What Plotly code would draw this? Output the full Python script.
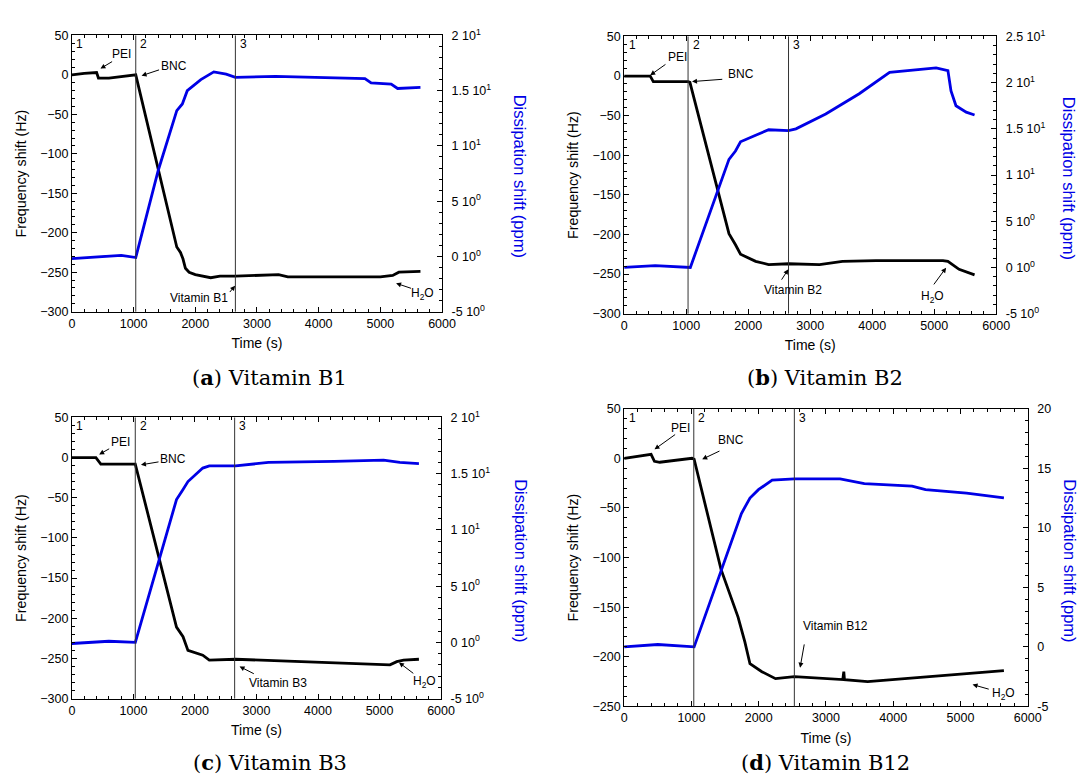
import plotly.graph_objects as go

W, H = 1091, 782

# ---------------- data ----------------
# Panel (a) Vitamin B1
tf_a = [0, 200, 400, 430, 600, 1000, 1035, 1700, 1760, 1800, 1840, 1900, 2000, 2250, 2400, 2650, 3250, 3350, 3500, 5000, 5200, 5300, 5650]
f_a = [0, 2, 3, -4, -4, -1, 0, -218, -225, -233, -245, -250, -253, -257, -255, -255, -254, -253, -256, -256, -254, -250, -249]
td_a = [0, 500, 800, 1035, 1400, 1700, 1790, 1870, 2090, 2300, 2500, 2650, 3300, 4750, 4850, 5175, 5280, 5650]
d_a = [-0.2, 0, 0.1, -0.1, 7.8, 13.2, 13.8, 15.0, 16.0, 16.7, 16.5, 16.2, 16.3, 16.1, 15.7, 15.6, 15.2, 15.3]

# Panel (b) Vitamin B2
tf_b = [0, 420, 470, 1030, 1060, 1690, 1795, 1876, 2120, 2330, 2650, 3150, 3520, 4060, 5140, 5220, 5400, 5650]
f_b = [0, 0, -7, -7, -8, -199, -213, -225, -234, -238, -237, -238, -234, -233, -233, -234, -244, -251]
td_b = [0, 500, 1067, 1500, 1690, 1795, 1876, 2120, 2330, 2650, 2770, 3250, 3790, 4280, 4600, 5030, 5220, 5270, 5350, 5515, 5650]
d_b = [0, 0.2, 0, 8.3, 11.7, 12.6, 13.6, 14.3, 14.9, 14.8, 15.0, 16.6, 18.8, 21.1, 21.3, 21.6, 21.3, 19.1, 17.5, 16.8, 16.5]

# Panel (c) Vitamin B3
tf_c = [0, 390, 470, 1030, 1700, 1806, 1886, 2127, 2233, 2660, 3730, 4530, 5170, 5280, 5390, 5640]
f_c = [0, 0, -8, -8, -211, -223, -240, -246, -252, -251, -254, -256, -258, -254, -252, -251]
td_c = [0, 600, 1031, 1700, 1806, 1886, 2127, 2233, 2660, 3195, 4264, 5065, 5330, 5640]
d_c = [-0.1, 0.1, 0, 12.7, 13.6, 14.3, 15.5, 15.7, 15.7, 16.0, 16.1, 16.2, 16.0, 15.9]

# Panel (d) Vitamin B12
tf_d = [0, 400, 450, 530, 1008, 1040, 1440, 1693, 1794, 1870, 2047, 2250, 2530, 2810, 3250, 3265, 3275, 3620, 4330, 4830, 5645]
f_d = [0, 4, -3, -4, 0, -1, -112, -160, -185, -207, -215, -222, -220, -221, -223, -215, -223, -225, -221, -218, -214]
td_d = [0, 500, 1040, 1590, 1743, 1870, 1996, 2200, 2530, 3210, 3570, 4280, 4480, 5090, 5645]
d_d = [0, 0.2, 0, 8.7, 11.2, 12.5, 13.2, 14.0, 14.1, 14.1, 13.7, 13.5, 13.2, 12.9, 12.5]

# step boundaries (s)
steps_a = [1035, 2650]
steps_b = [1030, 2650]
steps_c = [1030, 2645]
steps_d = [1035, 2530]

# arrow labels: (text, text_t, text_f, tail_t, tail_f, head_t, head_f)
notes_a = [("PEI", 800, 27, 676, 18, 463, 8), ("BNC", 1660, 11, 1437, 7, 1129, -1),
           ("Vitamin B1", 2060, -283, 2540, -277, 2646, -267), ("H<sub>2</sub>O", 5690, -278, 5521, -271, 5255, -264)]
notes_b = [("PEI", 852, 24, 690, 16, 420, 1), ("BNC", 1876, 2, 1606, -4, 1094, -7),
           ("Vitamin B2", 2722, -270, 2523, -259, 2647, -244), ("H<sub>2</sub>O", 4976, -279, 4976, -265, 5191, -242)]
notes_c = [("PEI", 791, 19, 630, 12, 443, 4), ("BNC", 1635, -2, 1432, -5, 1122, -9),
           ("Vitamin B3", 3355, -281, 2981, -270, 2725, -260), ("H<sub>2</sub>O", 5733, -279, 5573, -270, 5316, -255)]
notes_d = [("PEI", 831, 31, 780, 25, 451, 9), ("BNC", 1591, 18, 1439, 8, 1160, -1),
           ("Vitamin B12", 3137, -169, 2681, -186, 2615, -211), ("H<sub>2</sub>O", 5645, -237, 5442, -233, 5179, -228)]

freq_range_abc = [-300, 50]
freq_range_d = [-250, 50]
x_ticks = [0, 1000, 2000, 3000, 4000, 5000, 6000]
freq_ticks_abc = [50, 0, -50, -100, -150, -200, -250, -300]
freq_ticks_d = [50, 0, -50, -100, -150, -200, -250]
diss_ticks_acd = [-5, 0, 5, 10, 15, 20]
diss_ticks_b = [-5, 0, 5, 10, 15, 20, 25]
diss_text_ac = ["-5 10<sup>0</sup>", "0 10<sup>0</sup>", "5 10<sup>0</sup>", "1 10<sup>1</sup>", "1.5 10<sup>1</sup>", "2 10<sup>1</sup>"]
diss_text_b = diss_text_ac + ["2.5 10<sup>1</sup>"]
diss_text_d = ["-5", "0", "5", "10", "15", "20"]
captions = ["(<b>a</b>) Vitamin B1", "(<b>b</b>) Vitamin B2", "(<b>c</b>) Vitamin B3", "(<b>d</b>) Vitamin B12"]

# ---------------- layout geometry (pixels) ----------------
boxes = [  # left, right, top, bottom
    (70, 446, 27, 309),
    (631, 1009, 28, 311),
    (70, 445, 417, 704),
    (631, 1041, 408, 712),
]
right_title_x = [526, 1083, 526, 1083]
caption_pos = [(271, 376), (835, 376), (271, 769), (836, 769)]

panels = [
    dict(tf=tf_a, f=f_a, td=td_a, d=d_a, steps=steps_a, notes=notes_a, fr=freq_range_abc, ft=freq_ticks_abc,
         dr=[-5, 20], dt=diss_ticks_acd, dtt=diss_text_ac),
    dict(tf=tf_b, f=f_b, td=td_b, d=d_b, steps=steps_b, notes=notes_b, fr=freq_range_abc, ft=freq_ticks_abc,
         dr=[-5, 25], dt=diss_ticks_b, dtt=diss_text_b),
    dict(tf=tf_c, f=f_c, td=td_c, d=d_c, steps=steps_c, notes=notes_c, fr=freq_range_abc, ft=freq_ticks_abc,
         dr=[-5, 20], dt=diss_ticks_acd, dtt=diss_text_ac),
    dict(tf=tf_d, f=f_d, td=td_d, d=d_d, steps=steps_d, notes=notes_d, fr=freq_range_d, ft=freq_ticks_d,
         dr=[-5, 20], dt=diss_ticks_acd, dtt=diss_text_d),
]

FONT = "Liberation Sans"
BLUE = "#0000e6"

def px_x(p):
    return p / W

def px_y(p):
    return 1 - p / H

fig = go.Figure()
layout = dict(width=W, height=H, margin=dict(l=0, r=0, t=0, b=0), showlegend=False,
              paper_bgcolor="white", plot_bgcolor="white",
              font=dict(family=FONT, size=12, color="black"))
annotations = []
shapes = []

for i, (p, box) in enumerate(zip(panels, boxes)):
    l, r, t, b = box
    xn = "" if i == 0 else str(i + 1)
    yln = "" if i == 0 else str(2 * i + 1)
    yrn = str(2 * i + 2)
    xa, yl, yr = "x" + xn, "y" + yln, "y" + yrn

    fig.add_trace(go.Scatter(x=p["tf"], y=p["f"], xaxis=xa, yaxis=yl, mode="lines",
                             line=dict(color="black", width=2.8), hoverinfo="skip"))
    fig.add_trace(go.Scatter(x=p["td"], y=p["d"], xaxis=xa, yaxis=yr, mode="lines",
                             line=dict(color=BLUE, width=2.8), hoverinfo="skip"))

    layout["xaxis" + xn] = dict(domain=[px_x(l), px_x(r)], anchor=yl, range=[0, 6000],
                                tickvals=x_ticks, ticks="inside", ticklen=5, tickcolor="black",
                                minor=dict(dtick=200, tick0=0, ticks="inside", ticklen=3, tickcolor="black"),
                                showline=True, linecolor="black", linewidth=1, mirror="ticks",
                                showgrid=False, zeroline=False, tickfont=dict(size=12.5),
                                title=dict(text="Time (s)", font=dict(size=14), standoff=8))
    layout["yaxis" + yln] = dict(domain=[px_y(b), px_y(t)], anchor=xa, range=p["fr"],
                                 tickvals=p["ft"], ticks="inside", ticklen=5, tickcolor="black",
                                 minor=dict(dtick=10, tick0=0, ticks="inside", ticklen=3, tickcolor="black"),
                                 showline=True, linecolor="black", linewidth=1,
                                 showgrid=False, zeroline=False, tickfont=dict(size=12.5),
                                 title=dict(text="Frequency shift (Hz)", font=dict(size=14.2), standoff=10))
    layout["yaxis" + yrn] = dict(overlaying=yl, side="right", anchor=xa, range=p["dr"],
                                 tickvals=p["dt"], ticktext=p["dtt"], ticks="inside", ticklen=5, tickcolor="black",
                                 minor=dict(dtick=1, tick0=0, ticks="inside", ticklen=3, tickcolor="black"),
                                 showline=True, linecolor="black", linewidth=1, ticklabelstandoff=6,
                                 showgrid=False, zeroline=False, tickfont=dict(size=12.5))

    for s in p["steps"]:
        shapes.append(dict(type="line", xref=xa, yref=yl + " domain", x0=s, x1=s, y0=0, y1=1,
                           line=dict(color="#333333", width=1)))

    # step numbers
    top_val = p["fr"][1] - 0.03 * (p["fr"][1] - p["fr"][0])
    for k, sx in enumerate([0] + p["steps"]):
        annotations.append(dict(text=str(k + 1), x=sx + 40, y=top_val, xref=xa, yref=yl, showarrow=False,
                                xanchor="left", yanchor="middle", font=dict(size=12)))

    for (txt, tx, ty, atx, aty, hx, hy) in p["notes"]:
        annotations.append(dict(text=txt, x=tx, y=ty, xref=xa, yref=yl, showarrow=False,
                                font=dict(size=12), xanchor="center", yanchor="middle"))
        annotations.append(dict(text="", x=hx, y=hy, ax=atx, ay=aty, xref=xa, yref=yl,
                                axref=xa, ayref=yl, showarrow=True, arrowhead=2, arrowsize=1,
                                arrowwidth=1, arrowcolor="black", standoff=0, startstandoff=0))

    # right axis title (reads top-to-bottom)
    annotations.append(dict(text="Dissipation shift (ppm)", x=px_x(right_title_x[i]), y=px_y((t + b) / 2 + 3),
                            xref="paper", yref="paper", showarrow=False, textangle=90,
                            font=dict(size=16.5, color=BLUE), xanchor="center", yanchor="middle"))
    # caption
    cx, cy = caption_pos[i]
    annotations.append(dict(text=captions[i], x=px_x(cx), y=px_y(cy),
                            xref="paper", yref="paper", showarrow=False,
                            font=dict(family="DejaVu Serif", size=21, color="black"),
                            xanchor="center", yanchor="middle"))

layout["annotations"] = annotations
layout["shapes"] = shapes
fig.update_layout(**layout)

fig.write_html("out.html", config={"displayModeBar": False},
               post_script="document.body.style.margin='0';")
